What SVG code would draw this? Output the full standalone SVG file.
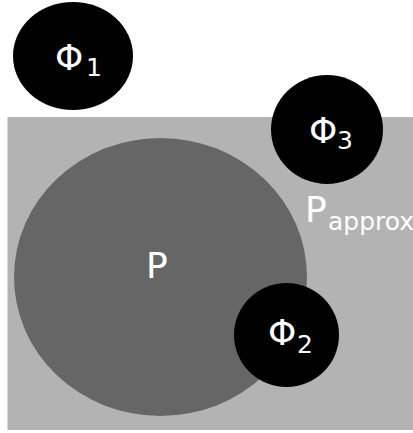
<svg xmlns="http://www.w3.org/2000/svg" width="413" height="433" viewBox="0 0 413 433">
<style>
.lbl{font-family:"DejaVu Sans",sans-serif;fill:#ffffff;font-size:36px}
.sub{font-size:25px}
.phi{fill:#000000}
</style>
<rect width="413" height="433" fill="#ffffff"/>
<g id="Papprox">
<rect x="7.5" y="117" width="406" height="313" fill="#b3b3b3"/>
<text class="lbl" x="305" y="222">P<tspan class="sub" x="328" y="230">approx</tspan></text>
</g>
<g id="P">
<ellipse cx="160.5" cy="277" rx="146.5" ry="139" fill="#666666"/>
<text class="lbl" x="146" y="278">P</text>
</g>
<g id="Phi1">
<ellipse class="phi" cx="73" cy="56" rx="60" ry="54"/>
<text class="lbl" x="55" y="70">Φ<tspan class="sub" x="86" y="76">1</tspan></text>
</g>
<g id="Phi3">
<ellipse class="phi" cx="327" cy="129.5" rx="56" ry="54.5"/>
<text class="lbl" x="309" y="143">Φ<tspan class="sub" x="337" y="149">3</tspan></text>
</g>
<g id="Phi2">
<ellipse class="phi" cx="286.5" cy="335" rx="52.5" ry="52"/>
<text class="lbl" x="268" y="345">Φ<tspan class="sub" x="297" y="353">2</tspan></text>
</g>
<g id="connectors"/>
</svg>
